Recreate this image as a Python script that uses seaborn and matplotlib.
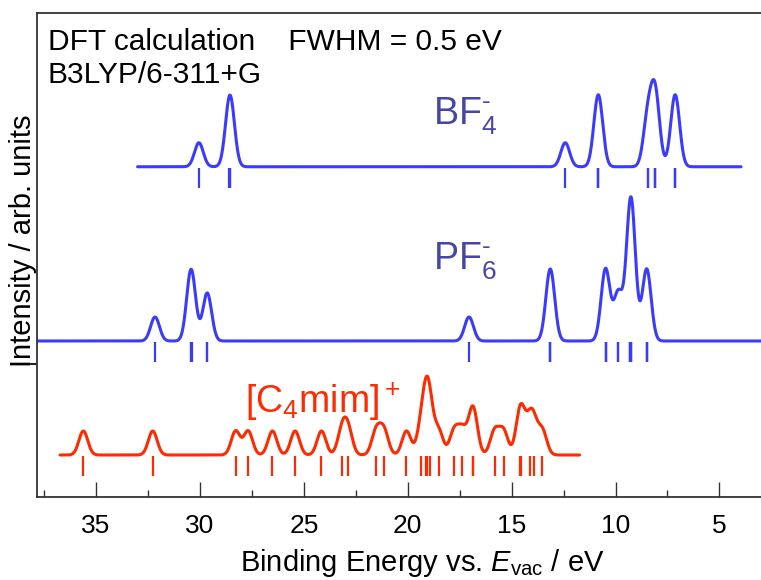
import numpy as np
import pandas as pd
import seaborn as sns
import matplotlib
matplotlib.use('Agg')
import matplotlib.pyplot as plt
from matplotlib.ticker import MultipleLocator


# orbital energies (eV), degenerate levels repeated
bf4_levels = [30.05, 28.58, 28.55, 28.53, 12.42, 10.83, 10.83, 10.83,
              8.45, 8.45, 8.09, 8.09, 8.09, 7.13, 7.13, 7.13]
pf6_levels = [32.16, 30.45, 30.42, 30.40, 29.65, 29.65, 17.05,
              13.14, 13.14, 13.14, 10.48, 10.48, 10.48, 9.87, 9.87,
              9.28, 9.28, 9.28, 9.24, 9.24, 9.24, 8.50, 8.50, 8.50]
cation_levels = [35.61, 32.27, 28.28, 27.68, 26.51, 25.42, 24.15, 23.16, 22.87,
                 21.52, 21.14, 20.06, 19.35, 19.10, 19.05, 18.95, 18.51, 17.77,
                 17.37, 16.88, 16.84, 15.82, 15.39, 14.59, 14.55, 14.13, 13.94, 13.52]

FWHM = 0.5
xticks = [35, 30, 25, 20, 15, 10, 5]


def broaden(levels, e):
    sigma = FWHM / (2 * np.sqrt(2 * np.log(2)))
    lv = np.asarray(levels)[:, None]
    return np.exp(-(e[None, :] - lv) ** 2 / (2 * sigma ** 2)).sum(axis=0)


sns.set_theme(style='ticks')
plt.rcParams['font.family'] = ['Liberation Sans', 'DejaVu Sans']
plt.rcParams['mathtext.fontset'] = 'custom'
plt.rcParams['mathtext.rm'] = 'Liberation Sans'
plt.rcParams['mathtext.it'] = 'Liberation Sans:italic'
plt.rcParams['mathtext.bf'] = 'Liberation Sans:bold'
plt.rcParams['text.color'] = 'black'
plt.rcParams['axes.labelcolor'] = 'black'
plt.rcParams['xtick.color'] = 'black'
plt.rcParams['ytick.color'] = 'black'

blue = '#3b3bff'
blue_txt = '#4646a8'
red = '#ff2a00'

fig = plt.figure(figsize=(7.61, 5.8), dpi=100)
ax = fig.add_axes([37 / 761, 83 / 580, 724 / 761, 484 / 580])

# (levels, baseline, plotted energy range, colour)
spectra = [
    (bf4_levels, 13.76, (33.0, 3.96), blue),
    (pf6_levels, 6.5, (37.84, 3.0), blue),
    (cation_levels, 1.75, (36.73, 11.73), red),
]

for levels, base, (e_hi, e_lo), col in spectra:
    e = np.linspace(e_hi, e_lo, 2500)
    df = pd.DataFrame({'energy': e, 'intensity': base + broaden(levels, e)})
    sns.lineplot(data=df, x='energy', y='intensity', ax=ax, color=col,
                 lw=2.2, sort=False, estimator=None)
    ax.vlines(levels, base - 0.06, base - 0.88, colors=col, lw=1.6)

ax.set_xlim(37.84, 3.0)
ax.set_ylim(0, 484 / 24)
ax.set_xticks(xticks)
ax.xaxis.set_minor_locator(MultipleLocator(2.5))
ax.tick_params(axis='x', which='major', direction='in', length=11, width=1,
               labelsize=19, pad=12, color='#333333')
ax.tick_params(axis='x', which='minor', direction='in', length=5, width=1,
               color='#333333')
ax.set_yticks([5.54])
ax.set_yticklabels([])
ax.tick_params(axis='y', direction='out', length=7, width=1.5, color='#222222')

for side in ['left', 'top', 'bottom']:
    ax.spines[side].set_color('#333333')
    ax.spines[side].set_linewidth(1.3)
ax.spines['right'].set_visible(False)

ax.set_xlabel('Binding Energy vs. $E_{\\mathrm{vac}}$ / eV', fontsize=21)
ax.xaxis.set_label_coords(0.532, -0.104, transform=ax.transAxes)
ax.xaxis.label.set_va('top')
ax.set_ylabel('Intensity / arb. units', fontsize=21)
ax.yaxis.set_label_coords(0.0, 0.53)

fig.text(48 / 761, 1 - 50 / 580, 'DFT calculation    FWHM = 0.5 eV',
         fontsize=21.5, va='baseline', ha='left')
fig.text(48 / 761, 1 - 83 / 580, 'B3LYP/6-311+G',
         fontsize=21.5, va='baseline', ha='left')

fig.text(433 / 761, 1 - 125 / 580, 'BF$_4^{\\text{-}}$', fontsize=27, color=blue_txt,
         va='baseline', ha='left')
fig.text(433 / 761, 1 - 269 / 580, 'PF$_6^{\\text{-}}$', fontsize=27, color=blue_txt,
         va='baseline', ha='left')
fig.text(245 / 761, 1 - 413 / 580, '[C$_4$mim]$^+$', fontsize=27, color=red,
         va='baseline', ha='left')

fig.savefig('out.png', dpi=100)
